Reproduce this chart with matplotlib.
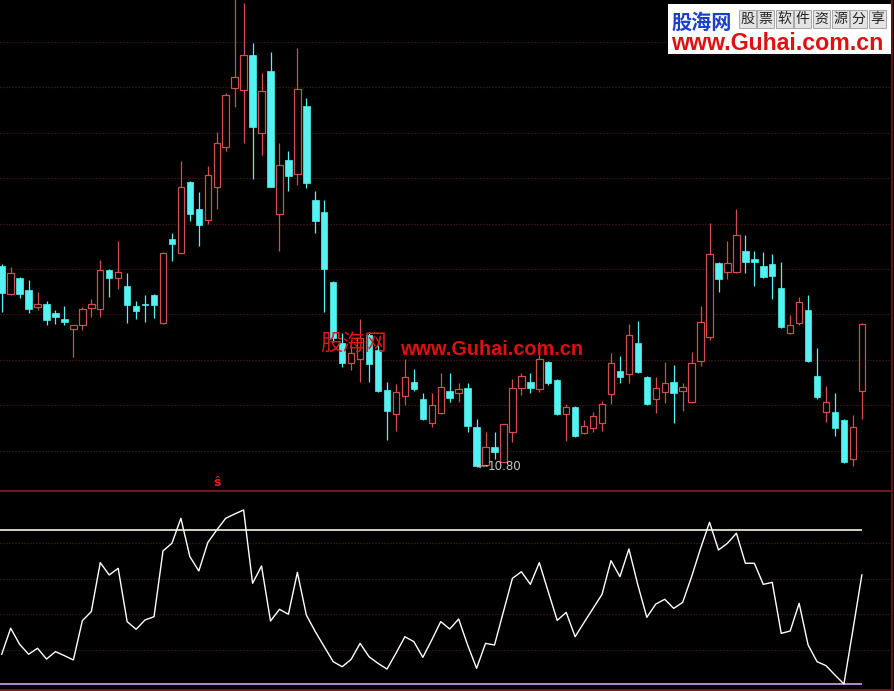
import matplotlib
matplotlib.use('Agg')
import matplotlib.pyplot as plt
from matplotlib.lines import Line2D
from matplotlib.patches import Rectangle

# ---------------- data ----------------
opens = [12.81, 12.53, 12.69, 12.57, 12.40, 12.43, 12.34, 12.28, 12.18, 12.22,
         12.39, 12.38, 12.77, 12.69, 12.61, 12.41, 12.43, 12.52, 12.24, 13.08,
         12.94, 13.65, 13.38, 13.27, 13.60, 14.00, 14.59, 14.57, 14.92, 14.14,
         14.76, 13.33, 13.87, 13.73, 14.41, 13.47, 13.35, 12.65, 12.04, 11.84,
         11.88, 12.12, 11.97, 11.57, 11.33, 11.51, 11.65, 11.48, 11.24, 11.34,
         11.56, 11.54, 11.59, 11.20, 10.82, 11.00, 10.85, 11.15, 11.59, 11.65,
         11.58, 11.85, 11.67, 11.33, 11.40, 11.14, 11.19, 11.24, 11.53, 11.76,
         11.73, 12.04, 11.70, 11.48, 11.55, 11.65, 11.56, 11.45, 11.86, 12.10,
         12.84, 12.75, 12.75, 12.96, 12.88, 12.81, 12.83, 12.59, 12.14, 12.24,
         12.37, 11.71, 11.35, 11.35, 11.27, 10.88, 11.56]
highs = [12.83, 12.80, 12.70, 12.67, 12.55, 12.46, 12.37, 12.41, 12.22, 12.40,
         12.48, 12.87, 12.78, 13.06, 12.74, 12.46, 12.52, 12.53, 12.95, 13.14,
         13.86, 13.66, 13.55, 13.81, 14.15, 14.54, 15.60, 15.44, 15.04, 14.74,
         14.95, 14.04, 13.96, 14.99, 14.49, 13.56, 13.47, 12.66, 12.14, 12.02,
         12.28, 12.15, 12.02, 11.65, 11.63, 11.88, 11.78, 11.54, 11.54, 11.74,
         11.74, 11.64, 11.64, 11.28, 11.15, 11.15, 11.23, 11.68, 11.74, 11.74,
         12.05, 11.86, 11.68, 11.43, 11.41, 11.27, 11.35, 11.46, 11.94, 11.91,
         12.23, 12.26, 11.71, 11.70, 11.85, 11.82, 11.64, 11.95, 12.41, 13.24,
         12.85, 13.06, 13.38, 13.12, 12.96, 12.95, 12.93, 12.85, 12.32, 12.50,
         12.52, 11.99, 11.61, 11.54, 11.28, 11.32, 12.24]
lows = [12.35, 12.52, 12.49, 12.34, 12.37, 12.22, 12.23, 12.22, 11.90, 12.17,
        12.30, 12.30, 12.50, 12.58, 12.24, 12.28, 12.25, 12.29, 12.23, 12.86,
        12.94, 13.26, 13.01, 13.23, 13.38, 13.96, 14.40, 14.04, 13.68, 13.92,
        13.60, 12.96, 13.56, 13.62, 13.59, 13.14, 12.35, 12.05, 11.80, 11.77,
        11.65, 11.65, 11.55, 11.07, 11.16, 11.42, 11.56, 11.27, 11.20, 11.33,
        11.45, 11.45, 11.15, 10.80, 10.81, 10.88, 10.85, 11.05, 11.52, 11.54,
        11.55, 11.62, 11.32, 11.06, 11.10, 11.13, 11.15, 11.16, 11.43, 11.64,
        11.64, 11.74, 11.42, 11.34, 11.44, 11.24, 11.36, 11.44, 11.81, 12.07,
        12.55, 12.68, 12.74, 12.74, 12.61, 12.69, 12.48, 12.19, 12.13, 12.22,
        11.85, 11.48, 11.25, 11.11, 10.84, 10.81, 11.28]
closes = [12.54, 12.74, 12.53, 12.38, 12.43, 12.27, 12.30, 12.25, 12.22, 12.38,
          12.43, 12.77, 12.69, 12.75, 12.42, 12.36, 12.42, 12.42, 12.94, 13.03,
          13.60, 13.33, 13.22, 13.72, 14.04, 14.52, 14.70, 14.92, 14.20, 14.56,
          13.60, 13.82, 13.71, 14.58, 13.64, 13.26, 12.78, 12.09, 11.84, 11.94,
          12.09, 11.83, 11.56, 11.36, 11.55, 11.70, 11.58, 11.28, 11.42, 11.60,
          11.49, 11.58, 11.21, 10.81, 11.00, 10.95, 11.23, 11.59, 11.71, 11.59,
          11.88, 11.64, 11.33, 11.40, 11.11, 11.21, 11.31, 11.43, 11.84, 11.70,
          12.12, 11.75, 11.43, 11.59, 11.64, 11.54, 11.60, 11.84, 12.25, 12.93,
          12.68, 12.84, 13.12, 12.85, 12.85, 12.70, 12.71, 12.20, 12.22, 12.45,
          11.86, 11.50, 11.45, 11.19, 10.85, 11.20, 12.23]
indicator = [19.3, 36.2, 25.8, 19.3, 23.2, 16.2, 21.0, 18.4, 15.6, 41.1,
             47.0, 78.8, 70.8, 75.1, 40.5, 35.5, 41.6, 43.7, 86.4, 91.4,
             107.6, 82.7, 73.4, 91.8, 100.0, 107.6, 110.4, 113.0, 65.4, 76.6,
             40.9, 48.5, 45.3, 72.5, 44.8, 34.0, 24.2, 14.5, 11.2, 16.0,
             26.4, 17.7, 13.4, 9.7, 19.9, 30.7, 27.5, 17.3, 28.6, 40.5,
             35.7, 42.2, 25.3, 10.2, 26.4, 25.3, 47.0, 68.6, 72.9, 64.7,
             78.8, 59.9, 41.3, 46.5, 30.7, 40.0, 49.1, 58.2, 80.1, 69.7,
             87.7, 64.3, 43.3, 51.9, 55.0, 49.1, 53.0, 69.7, 88.1, 105.0,
             87.0, 91.4, 97.9, 78.4, 78.4, 64.7, 66.0, 32.9, 34.4, 52.4,
             25.3, 14.5, 11.9, 5.8, 0.0, 35.1, 70.8]
price_grid = [10.96, 11.42, 11.87, 12.33, 12.78, 13.23, 13.69, 14.14, 14.60, 15.05]
ind_grid = [22.1, 45.6, 68.0, 91.75]
ind_upper = 100.0
ind_lower = 0.0
low_label = "10.80"
low_index = 53
low_value = 10.80
signal_index = 24
signal_label = "ŝ"

# ---------------- styling ----------------
W, H = 894, 691
RED = '#D24E4E'
CYAN = '#55F2F2'
GRID = '#5c2020'
BORDER = '#8e2424'

fig = plt.figure(figsize=(W / 100, H / 100), dpi=100, facecolor='black')


def px_axes(x0, y0, x1, y1):
    return fig.add_axes([x0 / W, 1 - y1 / H, (x1 - x0) / W, (y1 - y0) / H])


ax = px_axes(0, 0, W, 490)
ax2 = px_axes(0, 490, W, H)
xlo, xhi = -1.7 / 8.96, (W - 1.7) / 8.96
for a in (ax, ax2):
    a.set_facecolor('black')
    a.set_xlim(xlo, xhi)
    a.axis('off')
ax.set_ylim(10.57, 15.47)
ax2.set_ylim(-4.55, 125.97)

grid_end = (891 - 1.7) / 8.96
for g in price_grid:
    ax.hlines(g, xlo, grid_end, colors=GRID, lw=0.9, linestyles=(0, (0.8, 1.6)), zorder=1)
for g in ind_grid:
    ax2.hlines(g, xlo, grid_end, colors=GRID, lw=0.9, linestyles=(0, (0.8, 1.6)), zorder=1)

n = len(opens)
xs = list(range(n))
up = [closes[i] >= opens[i] for i in xs]
cols = [RED if u else CYAN for u in up]
ax.vlines(xs, lows, highs, colors=cols, lw=0.9, zorder=2)
bw = 0.72
for i in xs:
    lo = min(opens[i], closes[i])
    hgt = max(abs(closes[i] - opens[i]), 0.012)
    if up[i]:
        ax.bar(i, hgt, bottom=lo, width=bw, facecolor='black', edgecolor=RED, lw=0.9, zorder=3)
    else:
        ax.bar(i, hgt, bottom=lo, width=bw, facecolor=CYAN, edgecolor=CYAN, lw=0.5, zorder=3)

# low label
ax.annotate('', xy=(low_index - 0.05, low_value + 0.01), xytext=(low_index + 1.25, low_value + 0.01),
            arrowprops=dict(arrowstyle='->', color='#c8c8c8', lw=0.7, shrinkA=0, shrinkB=0,
                            mutation_scale=6), zorder=5)
ax.text(low_index + 1.25, low_value + 0.005, low_label, color='#c8c8c8', fontsize=8.6,
        ha='left', va='center', family='DejaVu Sans', zorder=5)

# signal marker
ax.text(signal_index, 10.585, signal_label, color='#e02020', fontsize=9, ha='center',
        va='bottom', family='DejaVu Sans', weight='bold')

# indicator
ax2.plot(xs, indicator, color='white', lw=1.0, zorder=3)
ax2.hlines(ind_upper, xlo, n - 1, colors='#f4f4dc', lw=1.2, zorder=2)
ax2.hlines(ind_lower, xlo, n - 1, colors='#b888d8', lw=1.4, zorder=2)


# frame lines
def fline(x0, y0, x1, y1, color, lw):
    fig.add_artist(Line2D([x0 / W, x1 / W], [1 - y0 / H, 1 - y1 / H], color=color, lw=lw,
                          transform=fig.transFigure))


fline(0, 490.5, 891, 490.5, BORDER, 1.1)
fline(0, 690, 891, 690, BORDER, 1.1)
fline(891.5, 0, 891.5, H, '#7a1e1e', 1.1)


# watermark
def ftext(x, y, s, **kw):
    fig.text(x / W, 1 - y / H, s, **kw)


ftext(320, 350, '股海网', color='#e01818', fontsize=16, family=['Noto Sans CJK SC', 'DejaVu Sans'],
      ha='left', va='baseline')
ftext(400, 355, 'www.Guhai.com.cn', color='#e01010', fontsize=14.3, family='Liberation Sans',
      weight='bold', ha='left', va='baseline')

# top-right logo
fig.add_artist(Rectangle((668 / W, 1 - 54 / H), (891 - 668) / W, 50 / H, transform=fig.transFigure,
                         facecolor='white', edgecolor='none', zorder=5))
ftext(671, 29, '股海网', color='#1a3fc8', fontsize=14.5, weight='bold',
      family=['Noto Sans CJK SC', 'DejaVu Sans'], ha='left', va='baseline', zorder=6)
for k, ch in enumerate('股票软件资源分享'):
    cx = 747 + k * 18.6
    fig.add_artist(Rectangle(((cx - 8.5) / W, 1 - 28 / H), 17 / W, 18 / H, transform=fig.transFigure,
                             facecolor='#e4e4e4', edgecolor='#9a9a9a', lw=0.6, zorder=6))
    ftext(cx, 19, ch, color='#222222', fontsize=10, family=['Noto Sans CJK SC', 'DejaVu Sans'],
          ha='center', va='center', zorder=7)
ftext(671, 50, 'www.Guhai.com.cn', color='#e01010', fontsize=16.7, family='Liberation Sans',
      weight='bold', ha='left', va='baseline', zorder=6)

fig.savefig('out.png', dpi=100, facecolor='black')
